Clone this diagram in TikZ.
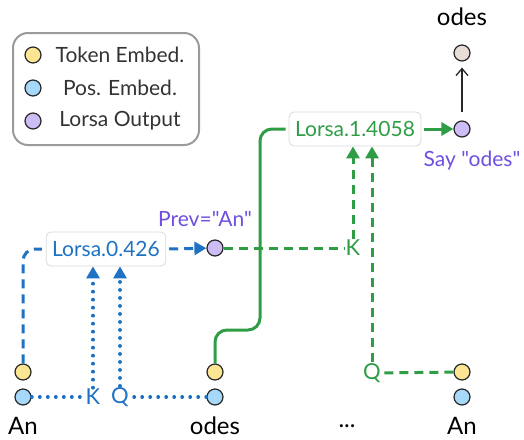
\documentclass[tikz,border=0pt]{standalone}
\usepackage{fontspec}
\setmainfont{Lato}[Ligatures=TeXOff]
\usetikzlibrary{arrows.meta}

\definecolor{tokyellow}{HTML}{FCE694}
\definecolor{posblue}{HTML}{A6D8FA}
\definecolor{outpurple}{HTML}{CDBDF5}
\definecolor{logitbeige}{HTML}{E9DDD7}
\definecolor{lblue}{HTML}{1F72C3}
\definecolor{lgreen}{HTML}{2E9D45}
\definecolor{lpurple}{HTML}{6F4EE0}
\definecolor{legendgrey}{HTML}{9A9A9A}
\definecolor{txtgrey}{HTML}{333333}

\begin{document}
\begin{tikzpicture}[
      x=1pt, y=-1pt,
      dot/.style = {circle, draw=black!85, line width=1.2pt, minimum size=16pt, inner sep=0pt},
      tokemb/.style = {dot, fill=tokyellow},
      posemb/.style = {dot, fill=posblue},
      lorsaout/.style = {dot, fill=outpurple},
      logit/.style = {dot, fill=logitbeige},
      head/.style = {draw=black!15, line width=0.8pt, rounded corners=5pt, fill=white,
                     minimum height=34pt, inner xsep=6pt, font=\fontsize{21}{21}\selectfont},
      word/.style = {font=\fontsize{24}{24}\selectfont, inner sep=1pt},
      qk/.style = {font=\fontsize{22}{22}\selectfont, inner sep=1pt},
      legtext/.style = {txtgrey, font=\fontsize{21}{21}\selectfont},
      purpletext/.style = {text=lpurple, font=\fontsize{21}{21}\selectfont},
      bdot/.style = {lblue, line width=3.3pt, line cap=round, dash pattern=on 0.5pt off 7.5pt},
      bdash/.style = {lblue, line width=3pt, dash pattern=on 9pt off 6pt},
      gdash/.style = {lgreen, line width=3pt, dash pattern=on 9pt off 6pt},
      gsolid/.style = {lgreen, line width=3pt},
      >={Triangle[length=12pt,width=13pt]}
    ]
    \useasboundingbox (0,0) rectangle (524,439);

    % legend
    \draw[legendgrey, line width=2pt, rounded corners=15pt] (13,33) rectangle (199,145);
    \foreach \y/\s/\t [count=\i] in {55/tokemb/Token Embed., 88/posemb/Pos. Embed., 121/lorsaout/Lorsa Output}{
      \node[\s] (leg\i) at (33,\y) {};
      \node[legtext] (legtxt\i) at (120,\y) {\t};
    }

    % token columns
    \foreach \x/\n/\w in {23/A/An, 215/B/odes, 462/C/An}{
      \node[tokemb] (tok\n) at (\x,372) {};
      \node[posemb] (pos\n) at (\x,397) {};
      \node[word] (word\n) at (\x,426) {\w};
    }
    \node[word] (dots) at (347,426) {...};

    % layer 0
    \node[head, text=lblue] (h0) at (106,249) {Lorsa.0.426};
    \node[qk, text=lblue] (k0) at (93,397) {K};
    \node[qk, text=lblue] (q0) at (120,397) {Q};
    \node[lorsaout] (prev) at (215,248) {};
    \node[purpletext] (prevtxt) at (205,219) {Prev="An"};

    \draw[bdot] (posA) -- (k0);
    \draw[bdot] (posB) -- (q0);
    \draw[bdot,->] (k0.north) -- (k0.north |- h0.south);
    \draw[bdot,->] (q0.north) -- (q0.north |- h0.south);
    \draw[bdash, rounded corners=12pt, shorten >=4pt] (tokA.north) |- (h0.west);
    \draw[bdash,->, shorten <=3pt] (h0.east) -- (prev);

    % layer 1
    \node[head, text=lgreen] (h1) at (355,129) {Lorsa.1.4058};
    \node[qk, text=lgreen] (k1) at (353,248) {K};
    \node[qk, text=lgreen] (q1) at (372,373) {Q};
    \node[lorsaout] (say) at (462,129) {};
    \node[purpletext] (saytxt) at (472,161) {Say "odes"};
    \node[logit] (out) at (462,53) {};
    \node[word] (outtxt) at (462,17) {odes};

    \draw[gdash] (prev) -- (k1);
    \draw[gdash] (tokC) -- (q1);
    \draw[gdash,->] (k1.north) -- (k1.north |- h1.south);
    \draw[gdash,->] (q1.north) -- (q1.north |- h1.south);
    \draw[gsolid, rounded corners=12pt, shorten >=3pt] (tokB.north) |- (260,330) |- (h1.west);
    \draw[gsolid,->, shorten <=3pt] (h1.east) -- (say);
    \draw[black!85, line width=1.3pt, -{Straight Barb[length=7pt,width=12pt]},
          shorten <=8pt, shorten >=6pt] (say) -- (out);
  \end{tikzpicture}
\end{document}
